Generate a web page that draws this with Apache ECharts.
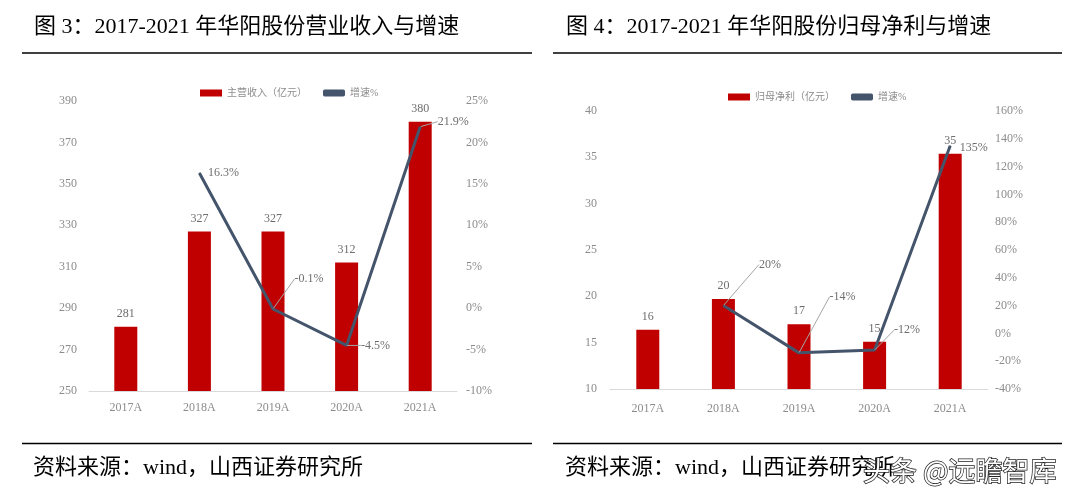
<!DOCTYPE html>
<html><head><meta charset="utf-8">
<script src="https://cdn.jsdelivr.net/npm/echarts@6/dist/echarts.min.js"></script>
<style>html,body{margin:0;padding:0;background:#fff}#c{width:1080px;height:493px}</style>
</head><body><div id="c"></div>
<script>
// ---- data ----
const categories = ['2017A', '2018A', '2019A', '2020A', '2021A'];
const revenue = [281, 327, 327, 312, 380];            // 主营收入（亿元）
const revenueGrowth = [null, 16.3, -0.1, -4.5, 21.9]; // 增速%
const netProfit = [16.4, 19.7, 17.0, 15.1, 35.4];     // 归母净利（亿元）
const netProfitGrowth = [null, 20, -14, -12, 135];    // 增速%
const revTicks = { min: 250, max: 390, interval: 20 };
const revGrowthTicks = { min: -10, max: 25, interval: 5 };
const npTicks = { min: 10, max: 40, interval: 5 };
const npGrowthTicks = { min: -40, max: 160, interval: 20 };

// ---- styles / layout ----
const RED = '#C00000', NAVY = '#44546A';
const SERIF = "'Liberation Serif', 'Times New Roman', 'Noto Sans CJK SC', serif";
const CJK = "'Liberation Serif', 'Noto Sans CJK SC', sans-serif";
const growthOffsets1 = [[0, 0], [3, 0], [16, -30], [9, 0], [12, -5]];
const growthOffsets2 = [[0, 0], [30, -41], [25, -56], [14, -20], [4, 2]];
const growthLeader1 = [false, false, true, true, true];
const growthLeader2 = [false, true, true, true, false];

const chart = echarts.init(document.getElementById('c'), null, { renderer: 'canvas' });

function xAxis(gi, margin) {
  return {
    type: 'category', gridIndex: gi, data: categories,
    axisLine: { onZero: false, lineStyle: { color: '#d9d9d9', width: 1 } },
    axisTick: { show: false },
    axisLabel: { color: '#8c8c8c', fontFamily: SERIF, fontSize: 12, margin: margin }
  };
}
function yAxis(gi, t, pos, fmt, margin) {
  return {
    type: 'value', gridIndex: gi, position: pos, min: t.min, max: t.max, interval: t.interval,
    splitLine: { show: false }, axisLine: { show: false }, axisTick: { show: false },
    axisLabel: { color: '#8c8c8c', fontFamily: SERIF, fontSize: 12, margin: margin, formatter: fmt }
  };
}
function barSeries(name, data, xi, yi) {
  return {
    name: name, type: 'bar', xAxisIndex: xi, yAxisIndex: yi, data: data, barWidth: 23,
    itemStyle: { color: RED },
    label: { show: true, position: 'top', distance: 7, color: '#6e6e6e', fontFamily: SERIF, fontSize: 12,
      formatter: p => Math.round(p.value) },
    emphasis: { disabled: true }
  };
}
function lineSeries(name, data, xi, yi, offs, leaders) {
  return {
    name: name, type: 'line', xAxisIndex: xi, yAxisIndex: yi,
    data: data.map((v, i) => ({ value: v, labelLine: { show: leaders[i] } })),
    symbol: 'circle', symbolSize: 1, showSymbol: true, connectNulls: false,
    lineStyle: { color: NAVY, width: 3 }, itemStyle: { color: NAVY },
    label: { show: true, position: 'right', distance: 5, color: '#6e6e6e', fontFamily: SERIF, fontSize: 12,
      formatter: p => p.value + '%' },
    labelLine: { show: true, lineStyle: { color: '#a6a6a6', width: 1 } },
    labelLayout: p => ({ dx: offs[p.dataIndex][0], dy: offs[p.dataIndex][1] }),
    emphasis: { disabled: true }
  };
}
function txt(x, y, s, size, color) {
  return { type: 'text', x: x, y: y,
    style: { text: s, font: size + 'px ' + CJK, fill: color, verticalAlign: 'middle' } };
}
function hline(x1, x2, y) {
  return { type: 'line', shape: { x1: x1, y1: y, x2: x2, y2: y }, style: { stroke: '#000', lineWidth: 1.5 } };
}

const legendText = { color: '#8c8c8c', fontSize: 10, fontFamily: CJK };

chart.setOption({
  animation: false,
  backgroundColor: '#fff',
  grid: [
    { left: 89, right: 623, top: 101, bottom: 102, containLabel: false },
    { left: 610, right: 92, top: 111, bottom: 104, containLabel: false }
  ],
  legend: [
    { left: 195, top: 83, itemWidth: 22, itemHeight: 7, itemGap: 16, textStyle: legendText,
      data: [{ name: '主营收入（亿元）', icon: 'rect' }, { name: '增速%', icon: 'roundRect' }], selectedMode: false },
    { left: 723, top: 87, itemWidth: 22, itemHeight: 7, itemGap: 16, textStyle: legendText,
      data: [{ name: '归母净利（亿元）', icon: 'rect' }, { name: '增速%', icon: 'roundRect' }], selectedMode: false }
  ],
  xAxis: [xAxis(0, 11), xAxis(1, 14)],
  yAxis: [
    yAxis(0, revTicks, 'left', '{value}', 12),
    yAxis(0, revGrowthTicks, 'right', '{value}%', 9),
    yAxis(1, npTicks, 'left', '{value}', 13),
    yAxis(1, npGrowthTicks, 'right', '{value}%', 7)
  ],
  series: [
    barSeries('主营收入（亿元）', revenue, 0, 0),
    lineSeries('增速%', revenueGrowth, 0, 1, growthOffsets1, growthLeader1),
    barSeries('归母净利（亿元）', netProfit, 1, 2),
    lineSeries('增速%', netProfitGrowth, 1, 3, growthOffsets2, growthLeader2)
  ],
  graphic: [
    txt(34, 27, '图 3：2017-2021 年华阳股份营业收入与增速', 22, '#000'),
    txt(566, 27, '图 4：2017-2021 年华阳股份归母净利与增速', 22, '#000'),
    hline(22, 532, 53), hline(553, 1062, 53),
    hline(22, 532, 443.5), hline(553, 1062, 443.5),
    txt(33, 468, '资料来源：wind，山西证券研究所', 22, '#000'),
    txt(565, 468, '资料来源：wind，山西证券研究所', 22, '#000'),
    { type: 'text', x: 863, y: 471, z: 100,
      style: { text: '头条 @远瞻智库', font: "27px 'Noto Sans CJK SC', sans-serif", fill: '#fff',
        stroke: '#222', lineWidth: 1.5, verticalAlign: 'middle' } }
  ]
});
</script></body></html>
